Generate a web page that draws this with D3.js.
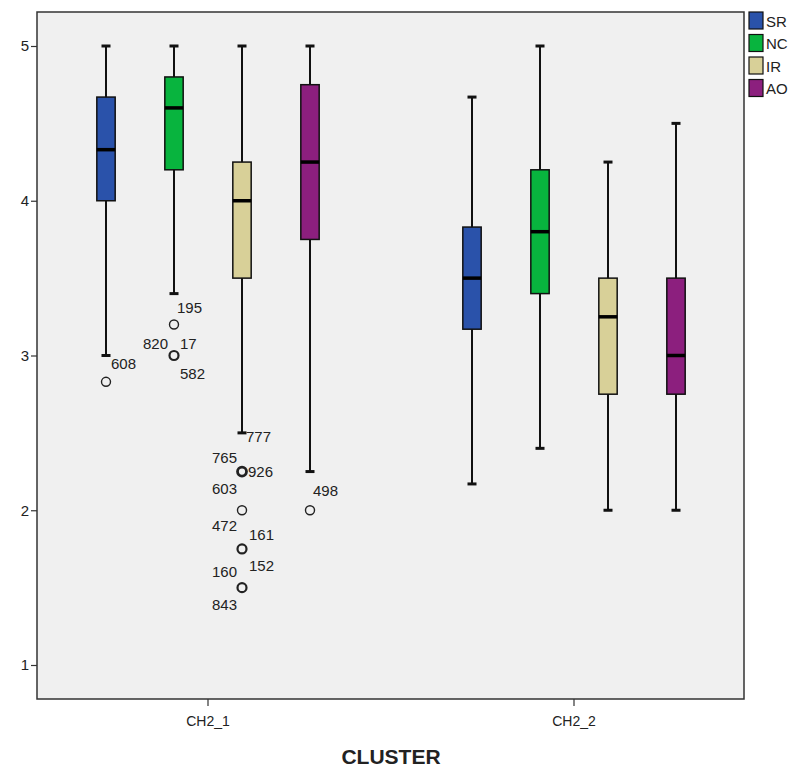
<!DOCTYPE html>
<html>
<head>
<meta charset="utf-8">
<script src="https://cdn.jsdelivr.net/npm/d3@7"></script>
<style>
  html, body { margin: 0; padding: 0; background: #ffffff; }
  svg { display: block; }
  text { font-family: Arial, "Liberation Sans", sans-serif; fill: #222; }
</style>
</head>
<body>
<svg id="chart" width="794" height="771"></svg>
<script>
// ---- data ----
const categories = ["CH2_1", "CH2_2"];
const seriesNames = ["SR", "NC", "IR", "AO"];
const seriesColors = ["#2a52aa", "#08b43e", "#d8d098", "#8c1f7e"];
const yTicks = [1, 2, 3, 4, 5];

// per series: [CH2_1, CH2_2]
const whiskerHigh = { SR: [5.0, 4.67], NC: [5.0, 5.0], IR: [5.0, 4.25], AO: [5.0, 4.5] };
const q3Values    = { SR: [4.67, 3.83], NC: [4.8, 4.2], IR: [4.25, 3.5], AO: [4.75, 3.5] };
const medians     = { SR: [4.33, 3.5], NC: [4.6, 3.8], IR: [4.0, 3.25], AO: [4.25, 3.0] };
const q1Values    = { SR: [4.0, 3.17], NC: [4.2, 3.4], IR: [3.5, 2.75], AO: [3.75, 2.75] };
const whiskerLow  = { SR: [3.0, 2.17], NC: [3.4, 2.4], IR: [2.5, 2.0], AO: [2.25, 2.0] };

// outliers: category, series, value, case labels
const outlierCats   = ["CH2_1", "CH2_1", "CH2_1", "CH2_1", "CH2_1", "CH2_1", "CH2_1", "CH2_1"];
const outlierSeries = ["SR", "NC", "NC", "IR", "IR", "IR", "IR", "AO"];
const outlierValues = [2.83, 3.2, 3.0, 2.25, 2.0, 1.75, 1.5, 2.0];
const outlierLabels = [["608"], ["195"], ["820", "17", "582"], ["777", "765", "926", "603"], ["472"], ["161", "160", "152"], ["843"], ["498"]];
const outlierCounts = [1, 1, 3, 4, 1, 3, 2, 1];

// ---- layout (not data) ----
const labelPlacement = [
  [[5, -13, "start"]],
  [[3, -12, "start"]],
  [[-6, -7, "end"], [6, -7, "start"], [6, 23, "start"]],
  [[4, -30, "start"], [-5, -9, "end"], [6, 5, "start"], [-5, 22, "end"]],
  [[-5, 21, "end"]],
  [[7, -9, "start"], [-5, 28, "end"], [7, 22, "start"]],
  [[-5, 22, "end"]],
  [[3, -14, "start"]]
];

const svg = d3.select("#chart");
const plot = { left: 37, right: 744, top: 12, bottom: 699 };

const y = d3.scaleLinear().domain([1, 5]).range([665, 46]);
const x = d3.scaleBand().domain(categories).range([25, 757]).paddingInner(0).paddingOuter(0);
const xs = d3.scaleBand().domain(seriesNames).range([-136, 136]).paddingInner(0.73).paddingOuter(0.365);
const color = d3.scaleOrdinal().domain(seriesNames).range(seriesColors);

// plot background
svg.append("rect")
  .attr("x", plot.left).attr("y", plot.top)
  .attr("width", plot.right - plot.left).attr("height", plot.bottom - plot.top)
  .attr("fill", "#f0f0f0").attr("stroke", "#333").attr("stroke-width", 1.5);

// y axis ticks
const yAxis = d3.axisLeft(y).tickValues(yTicks).tickSize(6).tickSizeOuter(0).tickFormat(d3.format("d"));
const gy = svg.append("g").attr("transform", `translate(${plot.left},0)`).call(yAxis);
gy.select(".domain").remove();
gy.selectAll(".tick line").attr("stroke", "#333").attr("stroke-width", 1.2);
gy.selectAll(".tick text").attr("font-size", 15).attr("fill", "#333").attr("x", -8);

// x axis ticks
const xAxis = d3.axisBottom(x).tickSize(7).tickSizeOuter(0);
const gx = svg.append("g").attr("transform", `translate(0,${plot.bottom})`).call(xAxis);
gx.select(".domain").remove();
gx.selectAll(".tick line").attr("stroke", "#333").attr("stroke-width", 1.2);
gx.selectAll(".tick text").attr("font-size", 14).attr("fill", "#333").attr("dy", "1.2em");

// boxes
const boxW = xs.bandwidth();
categories.forEach((cat, ci) => {
  seriesNames.forEach(s => {
    const cx = x(cat) + x.bandwidth() / 2 + xs(s) + boxW / 2;
    const g = svg.append("g");
    g.append("line").attr("x1", cx).attr("x2", cx)
      .attr("y1", y(whiskerHigh[s][ci])).attr("y2", y(whiskerLow[s][ci]))
      .attr("stroke", "#111").attr("stroke-width", 2);
    [whiskerHigh[s][ci], whiskerLow[s][ci]].forEach(v => {
      g.append("line").attr("x1", cx - 4.5).attr("x2", cx + 4.5)
        .attr("y1", y(v)).attr("y2", y(v))
        .attr("stroke", "#111").attr("stroke-width", 3);
    });
    g.append("rect")
      .attr("x", cx - boxW / 2).attr("width", boxW)
      .attr("y", y(q3Values[s][ci])).attr("height", y(q1Values[s][ci]) - y(q3Values[s][ci]))
      .attr("fill", color(s)).attr("stroke", "#111").attr("stroke-width", 1.5);
    g.append("line").attr("x1", cx - boxW / 2).attr("x2", cx + boxW / 2)
      .attr("y1", y(medians[s][ci])).attr("y2", y(medians[s][ci]))
      .attr("stroke", "#000").attr("stroke-width", 3.5);
  });
});

// outliers
outlierValues.forEach((v, i) => {
  const cat = outlierCats[i], s = outlierSeries[i];
  const cx = x(cat) + x.bandwidth() / 2 + xs(s) + boxW / 2;
  const cy = y(v);
  svg.append("circle").attr("cx", cx).attr("cy", cy).attr("r", 4.5)
    .attr("fill", "none").attr("stroke", "#222")
    .attr("stroke-width", outlierCounts[i] > 3 ? 2.8 : (outlierCounts[i] > 1 ? 2.2 : 1.4));
  outlierLabels[i].forEach((lab, j) => {
    const p = labelPlacement[i][j];
    svg.append("text").attr("x", cx + p[0]).attr("y", cy + p[1])
      .attr("text-anchor", p[2]).attr("font-size", 15).attr("fill", "#333")
      .text(lab);
  });
});

// axis title
svg.append("text").attr("x", 391).attr("y", 764).attr("text-anchor", "middle")
  .attr("font-size", 21).attr("font-weight", "bold").attr("fill", "#111")
  .text("CLUSTER");

// legend
const leg = svg.append("g").attr("transform", "translate(749,12)");
seriesNames.forEach((s, i) => {
  leg.append("rect").attr("x", 0).attr("y", i * 22.5).attr("width", 14).attr("height", 17)
    .attr("fill", color(s)).attr("stroke", "#111").attr("stroke-width", 1.2);
  leg.append("text").attr("x", 17).attr("y", i * 22.5 + 14.5)
    .attr("font-size", 15).attr("fill", "#222").text(s);
});
</script>
</body>
</html>
